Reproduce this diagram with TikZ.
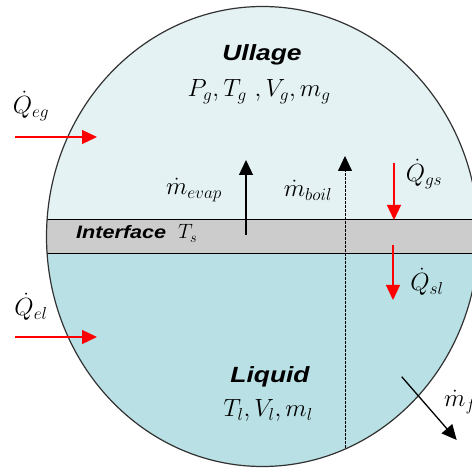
\documentclass[tikz,border=0pt]{standalone}
\usepackage{fontspec}
\newfontfamily\lblfont[FakeStretch=1.2]{Liberation Sans}
\usetikzlibrary{arrows.meta}
\definecolor{ullagec}{RGB}{228,242,244}
\definecolor{liquidc}{RGB}{185,224,228}
\definecolor{bandc}{RGB}{204,204,204}
\definecolor{tankline}{RGB}{50,50,50}
\definecolor{heatred}{RGB}{255,0,0}
\tikzset{
  heat/.style={draw=heatred, line width=1.3pt, -{Triangle[length=15pt,width=14pt]}},
  massflow/.style={draw=black, line width=1.3pt, -{Triangle[length=15pt,width=14pt]}},
  boilflow/.style={draw=black, line width=0.8pt, dash pattern=on 2.5pt off 1.5pt, -{Triangle[length=15pt,width=14pt]}},
  region/.style={font=\lblfont\bfseries\itshape\fontsize{22}{26}\selectfont, inner sep=0pt, anchor=base},
  props/.style={font=\fontsize{26}{30}\selectfont, inner sep=0pt, anchor=base},
  flowlbl/.style={font=\fontsize{24}{28}\selectfont, inner sep=0pt}
}
\begin{document}
\begin{tikzpicture}[x=1pt,y=-1pt]
\useasboundingbox (0,0) rectangle (472,468);
\clip (0,0) rectangle (472,468);
\def\tank{(262.5,236.5) ellipse [x radius=216, y radius=230]}
\fill[ullagec] \tank;
\begin{scope}
  \clip \tank;
  \fill[liquidc] (0,254) rectangle (480,470);
  \fill[bandc] (0,220) rectangle (480,254);
  \draw[line width=1pt] (0,220) -- (480,220) (0,254) -- (480,254);
\end{scope}
\draw[tankline, line width=1.2pt] \tank;

% labels
\node[region] (ull) at (262,61) {Ullage};
\node[props] (ullp) at (259,97) {$P_g, T_g\ ,V_g, m_g$};
\node[region] (liq) at (270,382) {Liquid};
\node[props] (liqp) at (268,417) {$T_l, V_l, m_l$};
\node[inner sep=0pt, anchor=base west, font=\lblfont\bfseries\itshape\fontsize{18}{22}\selectfont] (intf) at (76,239) {Interface\ \ \fontsize{22}{26}\selectfont$T_s$};

\node[flowlbl] (qeg) at (31,106) {$\dot{Q}_{eg}$};
\node[flowlbl] (qel) at (31,307) {$\dot{Q}_{el}$};
\node[flowlbl] (qgs) at (424,174) {$\dot{Q}_{gs}$};
\node[flowlbl] (qsl) at (427,282) {$\dot{Q}_{sl}$};
\node[flowlbl] (mev) at (194,190) {$\dot{m}_{evap}$};
\node[flowlbl] (mbo) at (308,190) {$\dot{m}_{boil}$};
\node[flowlbl, anchor=west] (mf) at (444,402) {$\dot{m}_{f}$};

% arrow end points
\coordinate (eg0) at (15,137);  \coordinate (eg1) at (97,137);
\coordinate (el0) at (15,337);  \coordinate (el1) at (97,337);
\coordinate (ev0) at (246,235); \coordinate (ev1) at (246,160);
\coordinate (bo0) at (345,447.7); \coordinate (bo1) at (345,156);
\coordinate (gs0) at (394,163); \coordinate (gs1) at (394,220);
\coordinate (sl0) at (393,245); \coordinate (sl1) at (393,300);
\coordinate (f0) at (401.7,376.7); \coordinate (f1) at (456.7,440);

\draw[heat] (eg0) -- (eg1);
\draw[heat] (el0) -- (el1);
\draw[heat] (gs0) -- (gs1);
\draw[heat] (sl0) -- (sl1);
\draw[massflow] (ev0) -- (ev1);
\draw[boilflow] (bo0) -- (bo1);
\draw[massflow] (f0) -- (f1);
\end{tikzpicture}
\end{document}
